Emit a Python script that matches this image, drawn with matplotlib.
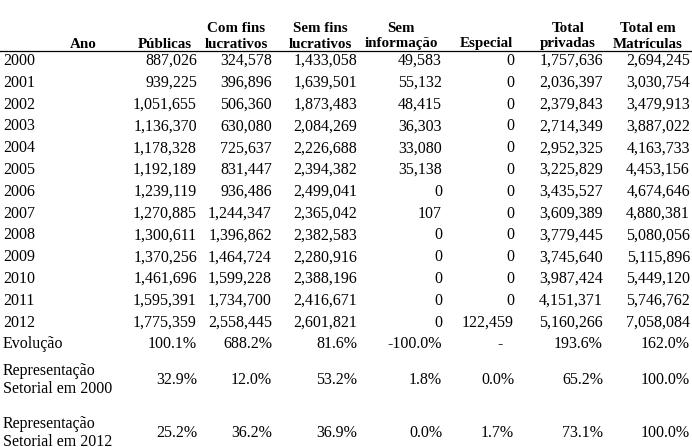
import matplotlib
matplotlib.use('Agg')
import matplotlib.pyplot as plt

# dados da tabela
anos = [2000, 2001, 2002, 2003, 2004, 2005, 2006, 2007, 2008, 2009, 2010, 2011, 2012]
publicas = [887026, 939225, 1051655, 1136370, 1178328, 1192189, 1239119, 1270885, 1300611, 1370256, 1461696, 1595391, 1775359]
com_fins = [324578, 396896, 506360, 630080, 725637, 831447, 936486, 1244347, 1396862, 1464724, 1599228, 1734700, 2558445]
sem_fins = [1433058, 1639501, 1873483, 2084269, 2226688, 2394382, 2499041, 2365042, 2382583, 2280916, 2388196, 2416671, 2601821]
sem_info = [49583, 55132, 48415, 36303, 33080, 35138, 0, 107, 0, 0, 0, 0, 0]
especial = [0, 0, 0, 0, 0, 0, 0, 0, 0, 0, 0, 0, 122459]
total_priv = [1757636, 2036397, 2379843, 2714349, 2952325, 3225829, 3435527, 3609389, 3779445, 3745640, 3987424, 4151371, 5160266]
total_mat = [2694245, 3030754, 3479913, 3887022, 4163733, 4453156, 4674646, 4880381, 5080056, 5115896, 5449120, 5746762, 7058084]

cabecalhos = ['Públicas', 'Com fins\nlucrativos', 'Sem fins\nlucrativos', 'Sem\ninformação',
              'Especial', 'Total\nprivadas', 'Total em\nMatrículas']
rotulos_extra = ['Evolução', 'Representação\nSetorial em 2000', 'Representação\nSetorial em 2012']
evolucao = ['100.1%', '688.2%', '81.6%', '-100.0%', '-', '193.6%', '162.0%']
rep_2000 = ['32.9%', '12.0%', '53.2%', '1.8%', '0.0%', '65.2%', '100.0%']
rep_2012 = ['25.2%', '36.2%', '36.9%', '0.0%', '1.7%', '73.1%', '100.0%']

W, H = 692, 447
fig = plt.figure(figsize=(W / 100, H / 100), dpi=100)
plt.rcParams['font.family'] = ['Liberation Serif', 'DejaVu Serif']
fs = 11.5
fs_cab = 10.8

def txt(x, y, s, size=fs, **kw):
    fig.text(x / W, 1 - (y + 2) / H, s, fontsize=size, **kw)

col_dir = [197, 272, 357, 442, 514, 603, 690]
col_cen = [165, 236, 320, 401, 486, 568, 648]

# cabecalho
txt(83, 42, 'Ano', size=fs_cab, ha='center', va='center', fontweight='bold')
for c, h in zip(col_cen, cabecalhos):
    partes = h.split('\n')
    if len(partes) == 2:
        txt(c, 26, partes[0], size=fs_cab, ha='center', va='center', fontweight='bold')
        txt(c, 42, partes[1], size=fs_cab, ha='center', va='center', fontweight='bold')
    else:
        txt(c, 42, h, size=fs_cab, ha='center', va='center', fontweight='bold')

fig.add_artist(plt.Line2D([0, 1], [1 - 50.5 / H, 1 - 50.5 / H], color='black', lw=0.9))

series = [publicas, com_fins, sem_fins, sem_info, especial, total_priv, total_mat]
for i, ano in enumerate(anos):
    y = 59 + i * 21.8
    txt(3, y, str(ano), ha='left', va='center')
    for x, s in zip(col_dir, series):
        txt(x, y, f'{s[i]:,}', ha='right', va='center')

linhas_y = [342, 378, 431]
for y, rot, vals in zip(linhas_y, rotulos_extra, [evolucao, rep_2000, rep_2012]):
    partes = rot.split('\n')
    if len(partes) == 2:
        txt(3, y - 9, partes[0], ha='left', va='center')
        txt(3, y + 9, partes[1], ha='left', va='center')
    else:
        txt(3, y, rot, ha='left', va='center')
    for x, v in zip(col_dir, vals):
        if v == '-':
            txt(x - 11, y, v, ha='right', va='center')
        else:
            txt(x, y, v, ha='right', va='center')

fig.savefig('out.png', dpi=100)
